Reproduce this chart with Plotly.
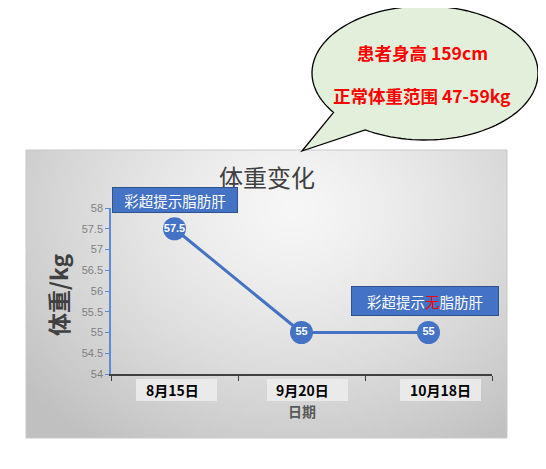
import base64
import struct
import zlib
import numpy as np
import plotly.graph_objects as go

# data
dates = ["8月15日", "9月20日", "10月18日"]
weights = [57.5, 55, 55]
y_ticks = [54, 54.5, 55, 55.5, 56, 56.5, 57, 57.5, 58]
note_1 = "彩超提示脂肪肝"
note_2 = "彩超提示<span style='color:#FF0000'>无</span>脂肪肝"
bubble_lines = ["患者身高 159cm", "正常体重范围 47-59kg"]

# page puts the figure 8px in from the top-left corner
OFF = 8
W, H = 546 - OFF, 469 - OFF
L, R, T, B = 111, 492, 208, 374   # plot area in window pixels


def px(x):
    return (x - L) / (R - L)


def py(y):
    return (B - y) / (B - T)


# gray radial gradient background as a small png
def gradient_png(w, h):
    yy, xx = np.mgrid[0:h, 0:w]
    r = np.sqrt(((xx - w * 0.55) / (w * 0.7)) ** 2 + ((yy - h * 0.2) / (h * 0.95)) ** 2)
    g = np.clip(247 - 52 * r ** 1.3, 192, 247).astype(np.uint8)
    raw = b"".join(b"\x00" + g[i].tobytes() for i in range(h))

    def chunk(tag, data):
        c = struct.pack(">I", len(data)) + tag + data
        return c + struct.pack(">I", zlib.crc32(tag + data) & 0xffffffff)

    png = b"\x89PNG\r\n\x1a\n" + chunk(b"IHDR", struct.pack(">IIBBBBB", w, h, 8, 0, 0, 0, 0))
    png += chunk(b"IDAT", zlib.compress(raw, 9)) + chunk(b"IEND", b"")
    return "data:image/png;base64," + base64.b64encode(png).decode()


# speech bubble outline
cx, cy, rx, ry = 425, 73, 113, 67
a0, a1 = np.deg2rad(144), np.deg2rad(122 + 360)
angs = np.linspace(a0, a1, 120)
pts = [(cx + rx * np.cos(a), cy + ry * np.sin(a)) for a in angs]
pts.append((302, 151))
path = "M " + " L ".join(f"{px(x):.4f},{py(y):.4f}" for x, y in pts) + " Z"

fig = go.Figure()
fig.add_trace(go.Scatter(
    x=dates, y=weights, mode="lines+markers+text",
    text=[str(v) for v in weights], textposition="middle center",
    textfont=dict(color="white", size=11, family="Liberation Sans", weight="bold"),
    line=dict(color="#4472C4", width=3),
    marker=dict(size=23, color="#4472C4"),
    cliponaxis=False, showlegend=False,
))

fig.add_layout_image(dict(
    source=gradient_png(120, 72), xref="paper", yref="paper",
    x=px(26), y=py(150), sizex=px(507) - px(26), sizey=py(150) - py(438),
    sizing="stretch", layer="below", xanchor="left", yanchor="top",
))
fig.add_shape(type="rect", xref="paper", yref="paper",
              x0=px(26), x1=px(507), y0=py(438), y1=py(150),
              line=dict(color="#c8c8c8", width=1), layer="below")
fig.add_shape(type="path", xref="paper", yref="paper", path=path,
              fillcolor="#E2EFDA", line=dict(color="black", width=1.3))
# light boxes behind the date labels
for x0 in [136, 267, 400]:
    fig.add_shape(type="rect", xref="paper", yref="paper",
                  x0=px(x0), x1=px(x0 + 81), y0=py(401), y1=py(379),
                  fillcolor="rgba(236,236,236,0.9)", line=dict(width=0), layer="below")

anns = []
anns.append(dict(text="体重变化", x=px(267), y=py(176), font=dict(size=24, color="#404040")))
anns.append(dict(text="<b>体重/kg</b>", x=px(58), y=py(294), textangle=-90,
                 font=dict(size=23, color="#404040")))
anns.append(dict(text="<b>日期</b>", x=px(302), y=py(411), font=dict(size=14, color="#595959")))
for d, xc in zip(dates, [172, 302, 440]):
    anns.append(dict(text="<b>" + d + "</b>", x=px(xc), y=py(390),
                     font=dict(size=14, color="black")))
anns.append(dict(text=note_1, x=px(175), y=py(200), width=122, height=22,
                 bgcolor="#4472C4", bordercolor="#2F528F", borderwidth=1,
                 font=dict(size=14.5, color="white")))
anns.append(dict(text=note_2, x=px(425), y=py(301), width=144, height=26,
                 bgcolor="#4472C4", bordercolor="#2F528F", borderwidth=1,
                 font=dict(size=14.5, color="white")))
for line, yc in zip(bubble_lines, [52, 95]):
    anns.append(dict(text="<b>" + line + "</b>", x=px(422), y=py(yc),
                     font=dict(size=17.5, color="#FF0000")))
for a in anns:
    a.update(xref="paper", yref="paper", showarrow=False, xanchor="center", yanchor="middle")
fig.update_layout(annotations=anns)

fig.update_layout(
    width=W, height=H,
    margin=dict(l=L - OFF, r=546 - R, t=T - OFF, b=469 - B),
    paper_bgcolor="white", plot_bgcolor="rgba(0,0,0,0)",
    font=dict(family="Noto Sans CJK SC"),
    xaxis=dict(type="category", range=[-0.5, 2.5], showticklabels=False,
               tickson="boundaries", ticks="outside", ticklen=5, tickcolor="#404040",
               showline=True, linecolor="#404040", linewidth=2, showgrid=False, zeroline=False),
    yaxis=dict(range=[54, 58], tickvals=y_ticks, ticks="outside", ticklen=4,
               tickcolor="#5B8BD9", showline=True, linecolor="#5B8BD9", linewidth=1.5,
               tickfont=dict(size=11, color="#808080", family="Liberation Sans"),
               showgrid=False, zeroline=False),
)

fig.write_html("out.html")
